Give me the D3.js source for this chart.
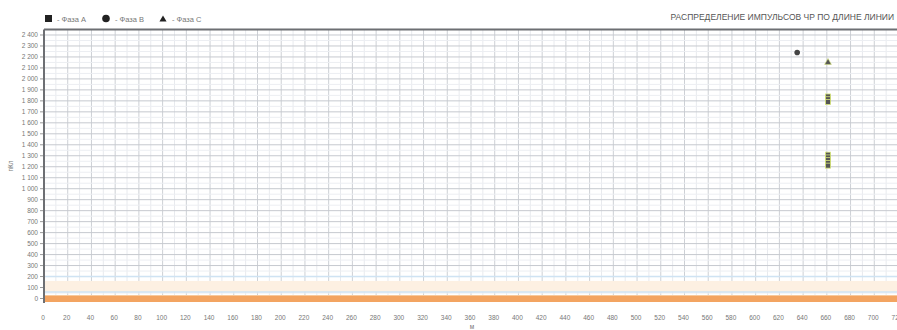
<!DOCTYPE html>
<html><head><meta charset="utf-8">
<script src="https://cdn.jsdelivr.net/npm/d3@7"></script>
<style>body{margin:0;background:#fff;overflow:hidden}svg{display:block;font-family:"Liberation Sans",Arial,sans-serif}</style>
</head><body><svg id="c" width="897" height="330"></svg>
<script>
const title = "РАСПРЕДЕЛЕНИЕ ИМПУЛЬСОВ ЧР ПО ДЛИНЕ ЛИНИИ";
const legendLabels = ["- Фаза А", "- Фаза В", "- Фаза С"];
const xTicks = d3.range(0, 721, 20);
const yTicks = d3.range(0, 2401, 100);
const phaseAx = [661, 661, 661, 661, 661, 661, 661, 661];
const phaseAy = [1840, 1815, 1790, 1310, 1285, 1260, 1235, 1210];
const phaseBx = [635];
const phaseBy = [2240];
const phaseCx = [661];
const phaseCy = [2150];
const bandLow = [60, 160];
const blueLines = [60, 200];

const svg = d3.select("#c");
const x = d3.scaleLinear().domain([0, 720]).range([44, 898]);
const y = d3.scaleLinear().domain([0, 2450]).range([298.5, 29.5]);
const L = 44, R = 897, T = 29.5, B = 301;

// grid
const g = svg.append("g");
g.selectAll(".vm").data(d3.range(10, 720, 20)).join("line")
  .attr("x1", d => x(d)).attr("x2", d => x(d)).attr("y1", T).attr("y2", B)
  .attr("stroke", "#e8eaee").attr("stroke-width", 1);
g.selectAll(".vM").data(xTicks.slice(1)).join("line")
  .attr("x1", d => x(d)).attr("x2", d => x(d)).attr("y1", T).attr("y2", B)
  .attr("stroke", "#cdd0d5").attr("stroke-width", 1);
g.selectAll(".hm").data(d3.range(50, 2450, 100)).join("line")
  .attr("x1", L).attr("x2", R).attr("y1", d => y(d)).attr("y2", d => y(d))
  .attr("stroke", "#eceef2").attr("stroke-width", 1);
g.selectAll(".hM").data(yTicks.slice(1)).join("line")
  .attr("x1", L).attr("x2", R).attr("y1", d => y(d)).attr("y2", d => y(d))
  .attr("stroke", "#c6c9cf").attr("stroke-width", 1);

// bands
svg.append("rect").attr("x", L).attr("width", R - L)
  .attr("y", y(bandLow[1])).attr("height", y(bandLow[0]) - y(bandLow[1]))
  .attr("fill", "#fdf0e2");
svg.selectAll(".bl").data(blueLines).join("line")
  .attr("x1", L).attr("x2", R).attr("y1", d => y(d)).attr("y2", d => y(d))
  .attr("stroke", "#cfe3f3").attr("stroke-width", 1.5);
svg.append("rect").attr("x", L).attr("width", R - L)
  .attr("y", y(0) - 2.5).attr("height", 6).attr("fill", "#f3a461");
svg.append("line").attr("x1", L).attr("x2", R).attr("y1", y(0) - 3).attr("y2", y(0) - 3)
  .attr("stroke", "#f8c99c").attr("stroke-width", 1);

// frame
svg.append("line").attr("x1", L).attr("x2", R).attr("y1", T).attr("y2", T).attr("stroke", "#6d6f73").attr("stroke-width", 2);
svg.append("line").attr("x1", L).attr("x2", L).attr("y1", T).attr("y2", B + 2).attr("stroke", "#6d6f73").attr("stroke-width", 2);

// y labels
const fmt = d => d3.format(",")(d).replace(/,/g, " ");
svg.selectAll(".yl").data(yTicks).join("text")
  .attr("x", 38).attr("y", d => y(d) + 2.5).attr("text-anchor", "end")
  .attr("font-size", 6.5).attr("fill", "#777").text(d => fmt(d));
svg.selectAll(".yt").data(yTicks).join("line")
  .attr("x1", 40).attr("x2", 43).attr("y1", d => y(d)).attr("y2", d => y(d))
  .attr("stroke", "#999");
// x labels
svg.selectAll(".xl").data(xTicks).join("text")
  .attr("x", d => x(d) - 1).attr("y", 320).attr("text-anchor", "middle")
  .attr("font-size", 6.5).attr("fill", "#777").text(d => d);

// axis titles
svg.append("text").attr("transform", "translate(13,166) rotate(-90)").attr("text-anchor", "middle")
  .attr("font-size", 6.5).attr("fill", "#777").text("пКл");
svg.append("text").attr("x", 472).attr("y", 329).attr("text-anchor", "middle")
  .attr("font-size", 6.5).attr("fill", "#777").text("м");

// legend
const lg = svg.append("g").attr("font-size", 7.5).attr("fill", "#777");
lg.append("rect").attr("x", 45).attr("y", 15).attr("width", 7).attr("height", 7).attr("fill", "#222");
lg.append("text").attr("x", 57).attr("y", 21.5).text(legendLabels[0]);
lg.append("circle").attr("cx", 106).attr("cy", 18.5).attr("r", 3.8).attr("fill", "#222");
lg.append("text").attr("x", 115).attr("y", 21.5).text(legendLabels[1]);
lg.append("path").attr("d", d3.symbol(d3.symbolTriangle, 22)()).attr("transform", "translate(163,19.5)").attr("fill", "#222");
lg.append("text").attr("x", 172).attr("y", 21.5).text(legendLabels[2]);

// title
svg.append("text").attr("x", 894).attr("y", 20).attr("text-anchor", "end")
  .attr("font-size", 8.5).attr("fill", "#555").text(title);

// points
const mk = svg.append("g");
mk.selectAll(".pa").data(phaseAx.map((v, i) => [v, phaseAy[i]])).join("rect")
  .attr("x", d => x(d[0]) - 2.5).attr("y", d => y(d[1]) - 2.5).attr("width", 5).attr("height", 5)
  .attr("fill", "#555").attr("stroke", "#d7e77a").attr("stroke-width", 0.8);
mk.selectAll(".pb").data(phaseBx.map((v, i) => [v, phaseBy[i]])).join("circle")
  .attr("cx", d => x(d[0])).attr("cy", d => y(d[1])).attr("r", 2.8)
  .attr("fill", "#444");
mk.selectAll(".pc").data(phaseCx.map((v, i) => [v, phaseCy[i]])).join("path")
  .attr("d", d3.symbol(d3.symbolTriangle, 20)())
  .attr("transform", d => `translate(${x(d[0])},${y(d[1])})`)
  .attr("fill", "#555").attr("stroke", "#d7e77a").attr("stroke-width", 0.6);
</script></body></html>
